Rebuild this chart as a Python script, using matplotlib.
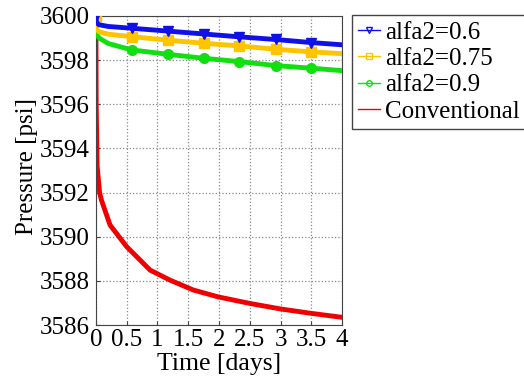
import matplotlib
matplotlib.use('Agg')
import matplotlib.pyplot as plt
from matplotlib.lines import Line2D

# Pressure decline
t_alfa = [0, 0.01, 0.05, 0.2, 0.58, 1.17, 1.75, 2.33, 2.92, 3.5, 4.0]
p_06 = [3600, 3599.70, 3599.60, 3599.52, 3599.44, 3599.31, 3599.18, 3599.05, 3598.93, 3598.79, 3598.69]
p_075 = [3600, 3599.40, 3599.28, 3599.17, 3599.06, 3598.90, 3598.76, 3598.64, 3598.49, 3598.37, 3598.29]
p_09 = [3600, 3599.20, 3599.00, 3598.75, 3598.46, 3598.26, 3598.08, 3597.93, 3597.75, 3597.63, 3597.52]
mark_idx = [0, 4, 5, 6, 7, 8, 9]

t_conv = [0, 0.005, 0.02, 0.06, 0.09, 0.23, 0.5, 0.88, 1.2, 1.58, 1.98, 2.5, 3.0, 3.5, 4.0]
p_conv = [3600, 3596.0, 3593.2, 3592.0, 3591.66, 3590.53, 3589.55, 3588.49, 3588.04,
          3587.59, 3587.28, 3586.98, 3586.73, 3586.53, 3586.35]

labels = ['alfa2=0.6', 'alfa2=0.75', 'alfa2=0.9', 'Conventional']
colors = ['#1010E8', '#FFC400', '#10E010', '#F00000']
markers = ['v', 's', 'o', None]

plt.rcParams['font.family'] = ['Liberation Serif', 'DejaVu Serif']

fig = plt.figure(figsize=(5.24, 3.87), dpi=100)
ax = fig.add_axes([0.183, 0.160, 0.470, 0.799])

ax.plot(t_conv, p_conv, color=colors[3], linewidth=3.5, zorder=2)
for p, c, m in zip([p_09, p_075, p_06], colors[2::-1], markers[2::-1]):
    ax.plot(t_alfa, p, color=c, linewidth=3.5, marker=m, markersize=7,
            markevery=mark_idx, zorder=3)

ax.set_xlim(0, 4)
ax.set_ylim(3586, 3600)
ax.set_xticks([0, 0.5, 1, 1.5, 2, 2.5, 3, 3.5, 4])
ax.set_xticklabels(['0', '0.5', '1', '1.5', '2', '2.5', '3', '3.5', '4'])
ax.set_yticks(range(3586, 3601, 2))
ax.tick_params(direction='in', labelsize=18, length=3, color='#444444')
ax.tick_params(axis='x', pad=3)
ax.tick_params(axis='y', pad=4.5)
ax.grid(True, linestyle=':', color='#888888', linewidth=0.9)
for s in ax.spines.values():
    s.set_color('#444444')

ax.set_xlabel('Time [days]', fontsize=18.5, labelpad=1)
ax.set_ylabel('Pressure [psi]', fontsize=18)
ax.yaxis.set_label_coords(-0.235, 0.513)

handles = [Line2D([], [], color=c, marker=m, markersize=4, linewidth=1,
                  markerfacecolor='none') for c, m in zip(colors, markers)]
fig.legend(handles, labels, loc='upper left', bbox_to_anchor=(0.672, 0.961),
           fontsize=18, frameon=True, fancybox=False, edgecolor='#444444',
           framealpha=1, handlelength=0.85, handletextpad=0.2, borderpad=0.25,
           labelspacing=0.15, borderaxespad=0)

fig.savefig('out.png', dpi=100)
